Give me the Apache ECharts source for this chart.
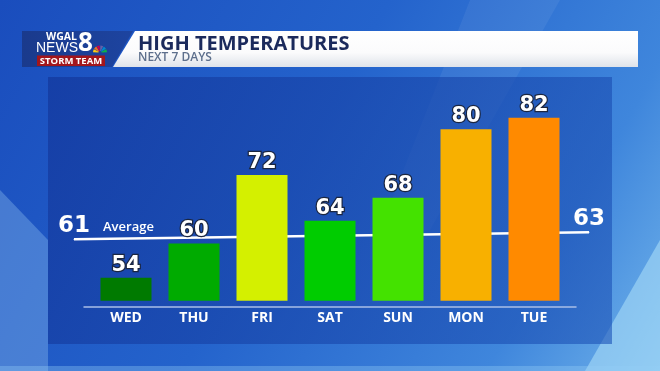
<!DOCTYPE html>
<html><head><meta charset="utf-8">
<script src="https://cdn.jsdelivr.net/npm/echarts@6/dist/echarts.min.js"></script>
<style>html,body{margin:0;padding:0;background:#2a64c8}#c{width:660px;height:371px}</style>
</head><body><div id="c"></div>
<script>
const days = ['WED','THU','FRI','SAT','SUN','MON','TUE'];
const highs = [54,60,72,64,68,80,82];
const barColors = ['#007a00','#00ab00','#d4f000','#00cc00','#44e200','#f8b000','#ff8a00'];
const avgValues = [61,63];
const avgLabel = 'Average';
const titleText = 'HIGH TEMPERATURES';
const subtitleText = 'NEXT 7 DAYS';
const logoTop = 'WGAL';
const logoMid = 'NEWS';
const logoNum = '8';
const logoTeam = 'STORM TEAM';

const F = '"Open Sans", "DejaVu Sans", sans-serif';
const FD = '"DejaVu Sans", "Open Sans", sans-serif';
const chart = echarts.init(document.getElementById('c'), null, {renderer:'canvas'});

const peacockColors = ['#fccc12','#f37021','#cc004c','#6460aa','#0089d0','#0db14b'];
const peacock = peacockColors.map((c,i)=>({
  type:'sector', z:-1,
  shape:{cx:100, cy:52.5, r0:1.5, r:7, startAngle:Math.PI + i*Math.PI/6 + 0.05, endAngle:Math.PI + (i+1)*Math.PI/6 - 0.05},
  style:{fill:c}
}));

const option = {
  animation:false,
  backgroundColor:'transparent',
  graphic:[
    {type:'rect', z:-10, shape:{x:0,y:0,width:660,height:371},
     style:{fill:new echarts.graphic.LinearGradient(0,0,1,1,[
       {offset:0,color:'#1a4dbd'},{offset:0.45,color:'#2463cc'},{offset:0.8,color:'#3f86dc'},{offset:1,color:'#6fb2ea'}])}},
    {type:'polygon', z:-9, shape:{points:[[470,0],[560,0],[430,230],[380,230]]}, style:{fill:'rgba(255,255,255,0.06)'}},
    {type:'polygon', z:-9, shape:{points:[[0,190],[48,240],[48,371],[0,371]]}, style:{fill:'rgba(170,215,250,0.30)'}},
    {type:'polygon', z:-9, shape:{points:[[660,240],[660,371],[585,371]]}, style:{fill:'rgba(175,225,250,0.55)'}},
    {type:'rect', z:-9, shape:{x:0,y:366,width:660,height:5}, style:{fill:'rgba(150,205,245,0.35)'}},
    {type:'rect', z:-8, shape:{x:48,y:77,width:564,height:267},
     style:{fill:new echarts.graphic.LinearGradient(0,0,1,1,[
       {offset:0,color:'rgba(20,58,160,0.80)'},{offset:1,color:'rgba(30,85,185,0.62)'}])}},
    {type:'polygon', z:-2, shape:{points:[[135,31],[638,31],[638,67],[113,67]]},
     style:{fill:new echarts.graphic.LinearGradient(0,0,0,1,[
       {offset:0,color:'#ffffff'},{offset:0.6,color:'#fbfbfc'},{offset:1,color:'#dfe3ea'}])}},
    {type:'polygon', z:-2, shape:{points:[[22,31],[133,31],[112,67],[22,67]]},
     style:{fill:new echarts.graphic.LinearGradient(0,0,1,0,[
       {offset:0,color:'#1a3a8c'},{offset:1,color:'#1d44a0'}])}},
    {type:'rect', z:-1, shape:{x:37,y:55.5,width:68,height:10.5}, style:{fill:'#a3161c'}},
    {type:'text', z:-1, style:{text:logoTeam, x:71, y:61, align:'center', verticalAlign:'middle', fill:'#fff', font:'bold 9.5px '+F}},
    {type:'text', z:-1, style:{text:logoTop, x:77, y:37.5, align:'right', verticalAlign:'middle', fill:'#fff', font:'bold 10.5px '+F}},
    {type:'text', z:-1, style:{text:logoMid, x:78, y:48, align:'right', verticalAlign:'middle', fill:'#fff', font:'14px "Liberation Sans Narrow", "Liberation Sans", sans-serif'}},
    {type:'text', z:-1, style:{text:logoNum, x:78, y:44, align:'left', verticalAlign:'middle', fill:'#fff', font:'bold 26px '+F}},
    ...peacock,
    {type:'text', z:-1, style:{text:titleText, x:138, y:44, align:'left', verticalAlign:'middle', fill:'#1b2a5c', font:'bold 20px '+F}},
    {type:'text', z:-1, style:{text:subtitleText, x:138, y:58, align:'left', verticalAlign:'middle', fill:'#5d6f8c', font:'600 12px '+F}},
    {type:'text', z:5, style:{text:avgLabel, x:103, y:227, align:'left', verticalAlign:'middle', fill:'#fff', font:'600 13px '+F}}
  ],
  grid:[
    {left:92, right:92, top:72, bottom:70.3},
    {left:74, right:71, top:72, bottom:70.3},
    {left:84, right:84, top:72, bottom:64.3}
  ],
  xAxis:[
    {type:'category', gridIndex:0, data:days, axisLine:{show:false}, axisTick:{show:false},
     axisLabel:{color:'#fff', fontWeight:'bold', fontSize:14, margin:10, fontFamily:F}},
    {type:'value', gridIndex:1, min:0, max:1, show:false},
    {type:'value', gridIndex:2, min:0, max:1, axisLine:{show:true, onZero:false, lineStyle:{color:'#a9bfe8', width:1.5}},
     axisTick:{show:false}, axisLabel:{show:false}, splitLine:{show:false}}
  ],
  yAxis:[
    {type:'value', gridIndex:0, min:50, max:90, show:false},
    {type:'value', gridIndex:1, min:43.46, max:108.8, show:false},
    {type:'value', gridIndex:2, min:0, max:1, show:false}
  ],
  series:[
    {type:'line', xAxisIndex:1, yAxisIndex:1, z:2,
     data:[[0,avgValues[0]],[1,avgValues[1]]],
     symbol:'circle', symbolSize:1, itemStyle:{color:'#fff'},
     lineStyle:{color:'#fff', width:2.5},
     label:{show:true, position:'top', distance:1, color:'#fff', fontSize:23, fontWeight:'bold', fontFamily:FD,
       formatter:p=>String(p.value[1])}},
    {type:'bar', xAxisIndex:0, yAxisIndex:0, z:3, barWidth:'75%',
     data:highs.map((v,i)=>({value:v, itemStyle:{color:barColors[i]}})),
     label:{show:true, position:'top', distance:2, color:'#fff', fontSize:21, fontWeight:'bold', fontFamily:FD,
       textBorderColor:'#1b2640', textBorderWidth:2.5}}
  ]
};
chart.setOption(option);
</script></body></html>
